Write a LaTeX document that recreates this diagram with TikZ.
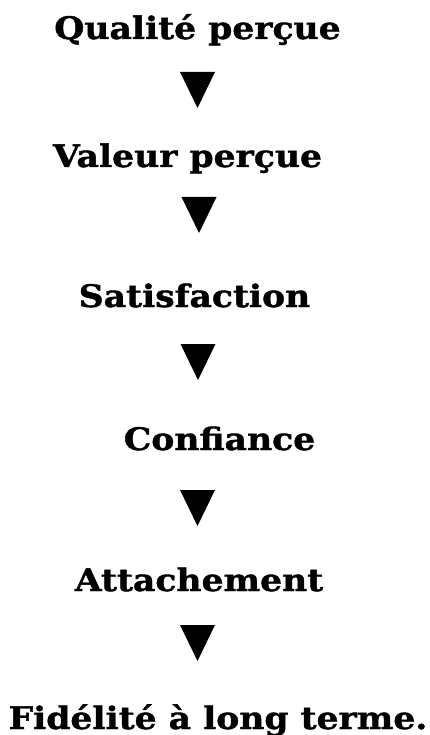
\documentclass[tikz,border=0pt]{standalone}
\usepackage{fontspec}
\setmainfont{DejaVu Serif}
\newfontfamily\lblfont{DejaVu Serif}[FakeStretch=1.115,BoldFeatures={FakeStretch=1.115,FakeBold=1.3}]
\begin{document}
\begin{tikzpicture}[x=1pt,y=-1pt,
  lbl/.style={anchor=base,inner sep=0pt,font=\lblfont\bfseries\fontsize{31}{36}\selectfont},
  tri/.pic={\fill (-17.5,0) -- (17.5,0) -- (0,36) -- cycle;}]
\useasboundingbox (0,0) rectangle (430,735);
\node[lbl] (q) at (197.5,39) {Qualité perçue};
\node[lbl] (v) at (187.5,167) {Valeur perçue};
\node[lbl] (s) at (194.5,307) {Satisfaction};
\node[lbl] (c) at (219.5,450) {Confiance};
\node[lbl] (a) at (199,591) {Attachement};
\node[lbl] (f) at (218,729) {Fidélité à long terme.};
\pic at (197.5,72) {tri};
\pic at (199,197) {tri};
\pic at (198,344) {tri};
\pic at (197.5,490) {tri};
\pic at (197.5,625) {tri};
\end{tikzpicture}
\end{document}
